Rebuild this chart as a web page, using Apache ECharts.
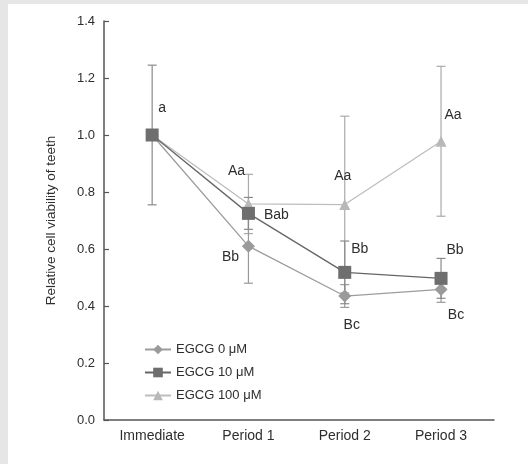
<!DOCTYPE html>
<html>
<head>
<meta charset="utf-8">
<script src="https://cdn.jsdelivr.net/npm/echarts@6/dist/echarts.min.js"></script>
<style>
  html, body { margin: 0; padding: 0; background: #e6e6e6; }
  #chart { position: absolute; left: 8px; top: 4px; width: 520px; height: 460px; background: #ffffff; }
</style>
</head>
<body>
<div id="chart"></div>
<script>
// Time points and measured relative viability (mean, SD) for each EGCG dose
const timePoints = ['Immediate', 'Period 1', 'Period 2', 'Period 3'];
const seriesNames = ['EGCG 0 \u03bcM', 'EGCG 10 \u03bcM', 'EGCG 100 \u03bcM'];

const egcg0Mean   = [1.00, 0.61, 0.435, 0.458];
const egcg0Sd     = [0.245, 0.13, 0.04, 0.045];
const egcg10Mean  = [1.00, 0.725, 0.518, 0.497];
const egcg10Sd    = [0.245, 0.056, 0.11, 0.07];
const egcg100Mean = [1.00, 0.758, 0.756, 0.978];
const egcg100Sd   = [0.245, 0.104, 0.31, 0.263];

// Significance letters shown next to each point
const egcg0Letters   = ['', 'Bb', 'Bc', 'Bc'];
const egcg10Letters  = ['a', 'Bab', 'Bb', 'Bb'];
const egcg100Letters = ['', 'Aa', 'Aa', 'Aa'];

const yTicks = [0, 0.2, 0.4, 0.6, 0.8, 1.0, 1.2, 1.4];

const FONT = '"Liberation Sans", Arial, sans-serif';
const TEXT = '#2e2e2e';
const AXIS = '#555555';

// Per-series styling
const styles = [
  { symbol: 'diamond',  size: 13, color: '#9a9a9a', line: '#9c9c9c', err: '#999999' },
  { symbol: 'rect',     size: 13, color: '#6e6e6e', line: '#666666', err: '#8a8a8a' },
  { symbol: 'triangle', size: 11, color: '#b8b8b8', line: '#bdbdbd', err: '#aaaaaa' }
];

// Where each letter sits relative to its point (pixels)
const letterOffsets = [
  [[0, 0], [-18, 11], [7, 29], [15, 26]],
  [[10, -27], [28, 2], [15, -23], [14, -28]],
  [[0, 0], [-12, -33], [-2, -28], [12, -26]]
];

const means = [egcg0Mean, egcg10Mean, egcg100Mean];
const sds = [egcg0Sd, egcg10Sd, egcg100Sd];
const letters = [egcg0Letters, egcg10Letters, egcg100Letters];

function errorSeries(k) {
  const data = means[k].map((m, i) => [i, m - sds[k][i], m + sds[k][i]]);
  // the shared starting point only gets one bar
  const shown = k === 1 ? data : data.slice(1);
  return {
    type: 'custom',
    name: 'err' + k,
    z: 1,
    silent: true,
    data: shown,
    renderItem: function (params, api) {
      const x = api.value(0);
      const lo = api.coord([x, api.value(1)]);
      const hi = api.coord([x, api.value(2)]);
      const w = 4.5;
      const st = { stroke: styles[k].err, lineWidth: 1.2 };
      return {
        type: 'group',
        children: [
          { type: 'line', shape: { x1: hi[0], y1: hi[1], x2: lo[0], y2: lo[1] }, style: st },
          { type: 'line', shape: { x1: hi[0] - w, y1: hi[1], x2: hi[0] + w, y2: hi[1] }, style: st },
          { type: 'line', shape: { x1: lo[0] - w, y1: lo[1], x2: lo[0] + w, y2: lo[1] }, style: st }
        ]
      };
    }
  };
}

function lineSeries(k) {
  const s = styles[k];
  return {
    type: 'line',
    name: seriesNames[k],
    z: 3 + (k === 1 ? 2 : k === 0 ? 1 : 0),
    symbol: s.symbol,
    symbolSize: s.size,
    showAllSymbol: true,
    itemStyle: { color: s.color, borderWidth: 0 },
    lineStyle: { color: s.line, width: 1.3 },
    emphasis: { disabled: true },
    data: means[k].map((m, i) => {
      const item = { value: [i, m] };
      if (letters[k][i]) {
        item.label = {
          show: true,
          formatter: letters[k][i],
          position: 'inside',
          offset: letterOffsets[k][i],
          color: TEXT,
          fontFamily: FONT,
          fontSize: 14
        };
      }
      return item;
    })
  };
}

const chart = echarts.init(document.getElementById('chart'), null, { renderer: 'canvas' });

chart.setOption({
  backgroundColor: '#ffffff',
  animation: false,
  grid: { left: 96, top: 17, width: 390, height: 399 },
  legend: {
    orient: 'vertical',
    left: 131,
    top: 334,
    itemWidth: 26,
    itemHeight: 12,
    itemGap: 10,
    textStyle: { color: TEXT, fontFamily: FONT, fontSize: 13 },
    data: seriesNames
  },
  xAxis: {
    type: 'value',
    min: -0.5,
    max: 3.55,
    interval: 0.5,
    splitLine: { show: false },
    axisTick: { show: false },
    axisLine: { lineStyle: { color: AXIS, width: 1.5 } },
    axisLabel: {
      color: TEXT,
      fontFamily: FONT,
      fontSize: 14,
      margin: 9,
      showMinLabel: true,
      showMaxLabel: true,
      formatter: function (v) {
        const r = Math.round(v);
        return Math.abs(v - r) < 1e-6 && r >= 0 && r < timePoints.length ? timePoints[r] : '';
      }
    }
  },
  yAxis: {
    type: 'value',
    min: yTicks[0],
    max: yTicks[yTicks.length - 1],
    interval: 0.2,
    name: 'Relative cell viability of teeth',
    nameLocation: 'middle',
    nameGap: 46,
    nameTextStyle: { color: TEXT, fontFamily: FONT, fontSize: 13.5 },
    splitLine: { show: false },
    axisLine: { show: true, onZero: false, lineStyle: { color: AXIS, width: 1.5 } },
    axisTick: { show: true, inside: true, length: 5, lineStyle: { color: AXIS, width: 1.2 } },
    axisLabel: {
      color: TEXT,
      fontFamily: FONT,
      fontSize: 13,
      margin: 9,
      formatter: v => v.toFixed(1)
    }
  },
  series: [
    errorSeries(2), errorSeries(0), errorSeries(1),
    lineSeries(2), lineSeries(0), lineSeries(1)
  ]
});
</script>
</body>
</html>
